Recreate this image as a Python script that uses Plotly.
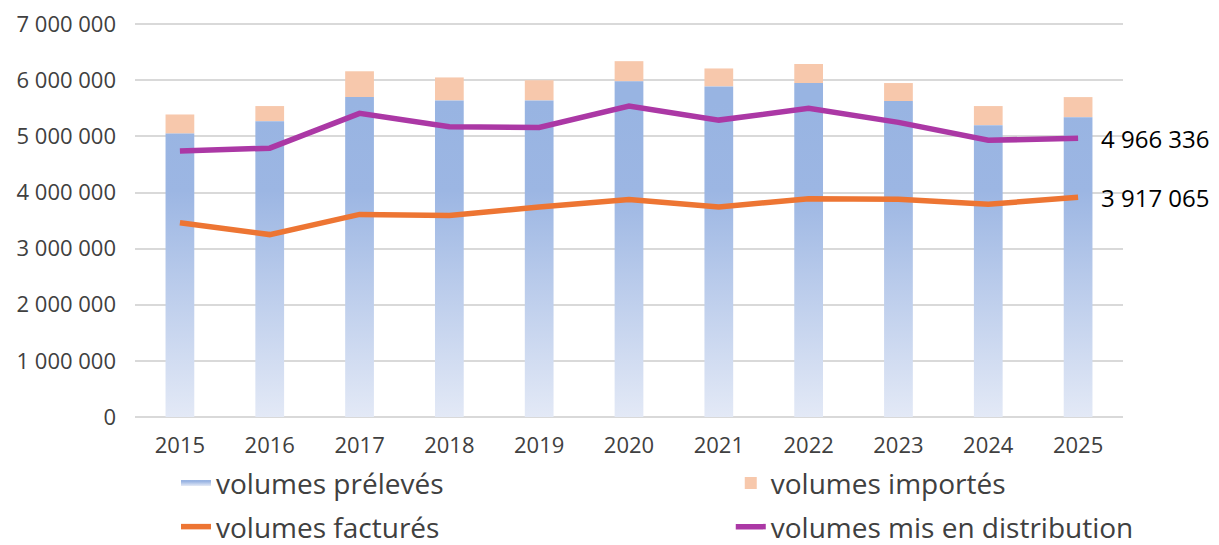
import plotly.graph_objects as go

years = [2015, 2016, 2017, 2018, 2019, 2020, 2021, 2022, 2023, 2024, 2025]
year_labels = [str(y) for y in years]
preleves = [5050000, 5270000, 5700000, 5640000, 5640000, 5980000, 5890000, 5950000, 5630000, 5200000, 5340000]
importes = [340000, 270000, 460000, 410000, 360000, 360000, 320000, 340000, 320000, 340000, 360000]
factures = [3460000, 3250000, 3610000, 3590000, 3740000, 3875000, 3740000, 3890000, 3880000, 3790000, 3917065]
distribution = [4740000, 4790000, 5410000, 5170000, 5160000, 5540000, 5290000, 5500000, 5250000, 4930000, 4966336]
y_ticks = [0, 1000000, 2000000, 3000000, 4000000, 5000000, 6000000, 7000000]

BAR_W = 0.32
FONT = "Open Sans"
TXT = "#404040"

# gradient-filled bars for "volumes prélevés", built from the data values
bx, by = [], []
for x, v in zip(years, preleves):
    bx += [x - BAR_W / 2, x - BAR_W / 2, x + BAR_W / 2, x + BAR_W / 2, x - BAR_W / 2, None]
    by += [0, v, v, 0, 0, None]

fig = go.Figure()
fig.add_trace(go.Scatter(
    x=bx, y=by, mode="none", fill="toself", name="volumes prélevés",
    fillgradient=dict(type="vertical", start=0, stop=5600000,
                      colorscale=[[0, "#e3e9f6"], [0.72, "#9cb6e3"], [1, "#98b4e2"]]),
    legend="legend", hoverinfo="skip",
))
fig.add_trace(go.Bar(
    x=years, y=importes, base=preleves, width=BAR_W, name="volumes importés",
    marker=dict(color="#f7c8ac", line=dict(width=0)), legend="legend3",
))
fig.add_trace(go.Scatter(
    x=years, y=factures, mode="lines", name="volumes facturés",
    line=dict(color="#ed7533", width=5.5), legend="legend2",
))
fig.add_trace(go.Scatter(
    x=years, y=distribution, mode="lines", name="volumes mis en distribution",
    line=dict(color="#ab38a5", width=5.5), legend="legend4",
))

for val, yv in [(distribution[-1], distribution[-1]), (factures[-1], factures[-1])]:
    fig.add_annotation(
        x=years[-1], y=yv, text=f"{val:,}".replace(",", " "), showarrow=False,
        xanchor="left", yanchor="middle", xshift=21,
        font=dict(family=FONT, size=24, color="#000000"),
    )

def leg(x, y):
    return dict(
        orientation="h", xanchor="left", yanchor="middle", x=x, y=y,
        font=dict(family=FONT, size=28, color=TXT),
        bgcolor="rgba(0,0,0,0)", itemclick=False,
    )

fig.update_layout(
    width=1219, height=545,
    margin=dict(l=127, r=104, t=15, b=136, autoexpand=False),
    paper_bgcolor="white", plot_bgcolor="white",
    barmode="overlay",
    showlegend=True,
    legend=leg(0.0415, -0.168),
    legend2=leg(0.0415, -0.279),
    legend3=leg(0.603, -0.168),
    legend4=leg(0.603, -0.279),
    xaxis=dict(
        range=[2014.5, 2025.5], tickmode="array", tickvals=years, ticktext=year_labels,
        showgrid=False, zeroline=False, showline=False, ticks="",
        ticklabelstandoff=13,
        tickfont=dict(family=FONT, size=22, color=TXT),
    ),
    yaxis=dict(
        range=[0, 7020000], tickmode="array", tickvals=y_ticks,
        ticktext=[f"{v:,}".replace(",", " ") for v in y_ticks],
        showgrid=True, gridcolor="#d9d9d9", gridwidth=1.5,
        zeroline=True, zerolinecolor="#d9d9d9", zerolinewidth=1.5,
        showline=False, ticks="", ticklen=0,
        ticklabelstandoff=18, ticklabeloverflow="allow",
        tickfont=dict(family=FONT, size=22, color=TXT),
    ),
)
fig.write_html("out.html")
